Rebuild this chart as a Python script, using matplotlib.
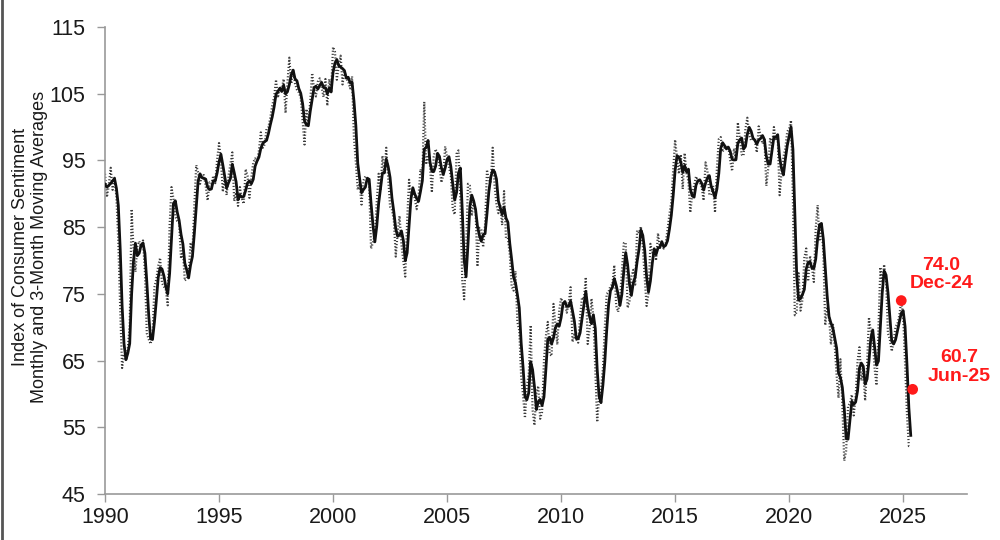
import matplotlib
matplotlib.use("Agg")
import matplotlib.pyplot as plt
import numpy as np
import pandas as pd
from matplotlib.lines import Line2D

plt.rcParams['font.family'] = ['Liberation Sans', 'DejaVu Sans']

start_year = 1990
sentiment = [
    93.0, 89.5, 91.3, 93.9, 90.6, 92.4, 89.5, 82.9, 72.8, 63.9, 66.0, 65.5,   # 1990
    66.8, 70.4, 87.7, 81.8, 78.3, 82.1, 82.9, 82.0, 83.0, 78.3, 69.1, 68.2,   # 1991
    67.5, 68.8, 76.0, 77.2, 79.2, 80.4, 76.6, 76.1, 75.6, 73.3, 85.3, 91.0,   # 1992
    89.3, 86.6, 85.9, 85.6, 80.3, 81.5, 77.0, 77.3, 77.9, 82.7, 81.2, 88.2,   # 1993
    94.3, 93.2, 91.5, 92.6, 92.8, 91.2, 89.0, 91.7, 91.5, 92.7, 91.6, 95.1,   # 1994
    97.6, 95.1, 90.3, 92.5, 89.8, 92.7, 94.4, 96.2, 88.9, 90.2, 88.2, 91.0,   # 1995
    89.3, 88.5, 93.7, 92.7, 89.4, 92.4, 94.7, 95.3, 94.7, 96.5, 99.2, 96.9,   # 1996
    97.4, 99.7, 100.0, 101.4, 103.2, 104.5, 107.1, 104.4, 106.0, 105.6, 107.2, 102.1,  # 1997
    106.6, 110.4, 106.5, 108.7, 106.5, 105.6, 105.2, 104.4, 100.9, 97.4, 102.7, 100.5,  # 1998
    103.9, 108.1, 105.7, 104.6, 106.8, 107.3, 106.0, 104.5, 107.2, 103.2, 107.2, 105.4,  # 1999
    112.0, 111.3, 107.1, 109.2, 110.7, 106.4, 108.3, 107.3, 106.8, 105.8, 107.6, 98.4,  # 2000
    94.7, 90.6, 91.5, 88.4, 92.0, 92.6, 92.4, 91.5, 81.8, 82.7, 83.9, 88.8,   # 2001
    93.0, 90.7, 95.7, 93.0, 96.9, 92.4, 88.1, 87.6, 86.1, 80.6, 84.2, 86.7,   # 2002
    82.4, 79.9, 77.6, 86.0, 92.1, 89.7, 90.9, 89.3, 87.7, 89.6, 93.7, 92.6,   # 2003
    103.8, 94.4, 95.8, 94.2, 90.2, 95.6, 96.7, 95.9, 94.2, 91.7, 92.8, 97.1,  # 2004
    95.5, 94.1, 92.6, 87.7, 86.9, 96.0, 96.5, 89.1, 76.9, 74.2, 81.6, 91.5,   # 2005
    91.2, 86.7, 88.9, 87.4, 79.1, 84.9, 84.7, 82.0, 85.4, 93.6, 92.1, 91.7,   # 2006
    96.9, 91.3, 88.4, 87.1, 88.3, 85.3, 90.4, 83.4, 83.4, 80.9, 76.1, 75.5,   # 2007
    78.4, 70.8, 69.5, 62.6, 59.8, 56.4, 61.2, 63.0, 70.3, 57.6, 55.3, 60.1,   # 2008
    61.2, 56.3, 57.3, 65.1, 68.7, 70.8, 66.0, 65.7, 73.5, 70.6, 67.4, 72.5,   # 2009
    74.4, 73.6, 73.6, 72.2, 73.6, 76.0, 67.8, 68.9, 68.2, 67.7, 71.6, 74.5,   # 2010
    74.2, 77.5, 67.5, 69.8, 74.3, 71.5, 63.7, 55.8, 59.5, 60.8, 63.7, 69.9,   # 2011
    75.0, 75.3, 76.2, 76.4, 79.3, 73.2, 72.3, 74.3, 78.3, 82.6, 82.7, 72.9,   # 2012
    73.8, 77.6, 78.6, 76.4, 84.5, 84.1, 85.1, 82.1, 77.5, 73.2, 75.1, 82.5,   # 2013
    81.2, 81.6, 80.0, 84.1, 81.9, 82.5, 81.8, 82.5, 84.6, 86.9, 88.8, 93.6,   # 2014
    98.1, 95.4, 93.0, 95.9, 90.7, 96.1, 93.1, 91.9, 87.2, 90.0, 91.3, 92.6,   # 2015
    92.0, 91.7, 91.0, 89.0, 94.7, 93.5, 90.0, 89.8, 91.2, 87.2, 93.8, 98.2,   # 2016
    98.5, 96.3, 96.9, 97.0, 97.1, 95.0, 93.4, 96.8, 95.1, 100.7, 98.5, 95.9,  # 2017
    95.7, 99.7, 101.4, 98.8, 98.0, 98.2, 97.9, 96.2, 100.1, 98.6, 97.5, 98.3,  # 2018
    91.2, 93.8, 98.4, 97.2, 100.0, 98.2, 98.4, 89.8, 93.2, 95.5, 96.8, 99.3,  # 2019
    99.8, 101.0, 89.1, 71.8, 72.3, 78.1, 72.5, 74.1, 80.4, 81.8, 76.9, 80.7,  # 2020
    79.0, 76.8, 84.9, 88.3, 82.9, 85.5, 81.2, 70.3, 72.8, 71.7, 67.4, 70.6,   # 2021
    67.2, 62.8, 59.4, 65.2, 58.4, 50.0, 51.5, 58.2, 58.6, 59.9, 56.8, 59.7,   # 2022
    64.9, 67.0, 62.0, 63.5, 59.0, 64.2, 71.5, 69.4, 67.9, 63.8, 61.3, 69.7,   # 2023
    79.0, 76.9, 79.4, 77.2, 69.1, 68.2, 66.4, 67.9, 70.1, 70.5, 71.8, 74.0,   # 2024
    71.7, 64.7, 57.0, 52.2, 52.2,                                            # 2025
]
prior_months = [90.8, 90.5]  # Nov, Dec 1989 for the moving average start

highlight_labels = ["Dec-24", "Jun-25"]
highlight_x = [2024 + 11 / 12, 2025 + 5 / 12]
highlight_values = [74.0, 60.7]

x_ticks = [1990, 1995, 2000, 2005, 2010, 2015, 2020, 2025]
y_ticks = [45, 55, 65, 75, 85, 95, 105, 115]

x = start_year + np.arange(len(sentiment)) / 12.0
full = pd.Series(prior_months + sentiment)
ma3 = full.rolling(3, min_periods=1).mean().values[len(prior_months):]

fig = plt.figure(figsize=(10, 5.4), dpi=100)
ax = fig.add_axes([0.105, 0.085, 0.862, 0.865])

ax.plot(x, sentiment, color='#3a3a3a', lw=1.6, linestyle=(0, (0.5, 0.9)), zorder=2)
ax.plot(x, ma3, color='#111111', lw=2.0, zorder=3)
ax.scatter(highlight_x, highlight_values, color='#ff1a1a', s=60, zorder=5, edgecolors='none')

red = '#ff1a1a'
ax.text(highlight_x[0] + 1.75, highlight_values[0] + 1.3,
        f"{highlight_values[0]:.1f}\n{highlight_labels[0]}",
        color=red, fontsize=14, fontweight='bold', ha='center', va='bottom',
        linespacing=1.1)
ax.text(highlight_x[1] + 2.05, highlight_values[1] + 0.7,
        f"{highlight_values[1]:.1f}\n{highlight_labels[1]}",
        color=red, fontsize=14, fontweight='bold', ha='center', va='bottom',
        linespacing=1.1)

ax.set_xlim(1990, 2027.8)
ax.set_ylim(45, 115)
ax.set_xticks(x_ticks)
ax.set_yticks(y_ticks)
ax.tick_params(axis='both', labelsize=15.5, colors='#999999', labelcolor='#1a1a1a',
               direction='out', length=6, width=1)
ax.tick_params(axis='x', pad=3)
ax.tick_params(axis='y', pad=8)
for s in ['top', 'right']:
    ax.spines[s].set_visible(False)
for s in ['left', 'bottom']:
    ax.spines[s].set_color('#999999')
    ax.spines[s].set_linewidth(1.2)

ax.set_ylabel("Index of Consumer Sentiment\nMonthly and 3-Month Moving Averages",
              fontsize=13, color='#1a1a1a', linespacing=1.15)
ax.yaxis.set_label_coords(-0.066, 0.53)

fig.add_artist(Line2D([0.002, 0.002], [0, 1], transform=fig.transFigure,
                      color='#555555', lw=2))

fig.savefig("out.png", dpi=100)
